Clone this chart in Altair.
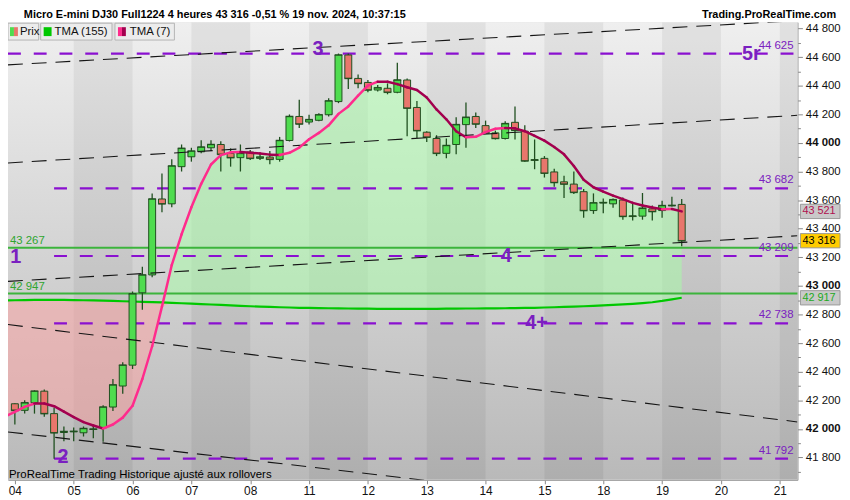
import altair as alt
import pandas as pd

# ---------------- data ----------------
DAYS = ['04', '05', '06', '07', '08', '11', '12', '13', '14', '15', '18', '19', '20', '21']
BARS_PER_DAY = 6

OPEN = [42176, 42130, 42183, 42264, 42107, 41975, 41980, 41973, 41996, 42008,
        42153, 42300, 42446, 42952, 43077, 43608, 43574, 43834, 43903, 43938,
        43966, 43989, 43927, 43897, 43936, 43892, 43901, 43885, 44017, 44185,
        44146, 44158, 44197, 44289, 44615, 44451, 44423, 44370, 44382, 44354,
        44440, 44248, 44075, 44031, 43927, 43989, 44128, 44185, 44121, 44070,
        44031, 44144, 44082, 43883, 43892, 43797, 43728, 43712, 43659, 43527,
        43580, 43574, 43601, 43489, 43488, 43539, 43527, 43560, 43570]
CLOSE = [42130, 42183, 42264, 42107, 41973, 41982, 41983, 42003, 41999, 42153,
         42308, 42446, 42945, 43077, 43608, 43574, 43839, 43962, 43943, 43971,
         43989, 43920, 43897, 43927, 43892, 43901, 43885, 44017, 44185, 44132,
         44163, 44197, 44294, 44615, 44451, 44416, 44370, 44386, 44354, 44440,
         44243, 44086, 44040, 43927, 43982, 44128, 44179, 44132, 44070, 44031,
         44135, 44088, 43874, 43879, 43788, 43723, 43712, 43654, 43527, 43581,
         43583, 43603, 43486, 43487, 43543, 43520, 43562, 43563, 43316]
HIGH = [42180, 42200, 42270, 42275, 42146, 42017, 42010, 42017, 42026, 42165,
        42349, 42467, 42961, 43134, 43647, 43786, 43885, 43989, 43966, 44019,
        44019, 44012, 43962, 43989, 43950, 43927, 43943, 44042, 44199, 44301,
        44197, 44208, 44312, 44625, 44625, 44479, 44440, 44405, 44416, 44560,
        44450, 44294, 44082, 44054, 44031, 44179, 44282, 44213, 44156, 44086,
        44151, 44255, 44123, 44024, 43908, 43820, 43770, 43800, 43678, 43647,
        43612, 43612, 43619, 43574, 43650, 43562, 43596, 43624, 43608]
LOW = [42031, 42107, 42107, 42085, 41792, 41913, 41913, 41947, 41934, 41911,
       42126, 42246, 42419, 42834, 43060, 43515, 43550, 43800, 43869, 43927,
       43943, 43800, 43834, 43800, 43881, 43881, 43851, 43869, 44010, 44104,
       44128, 44151, 44185, 44278, 44377, 44382, 44354, 44359, 44340, 44347,
       44047, 44035, 44007, 43908, 43892, 43920, 43966, 44104, 44063, 44024,
       44024, 44024, 43869, 43816, 43758, 43694, 43615, 43643, 43477, 43504,
       43509, 43546, 43463, 43458, 43463, 43458, 43477, 43555, 43278]
# indicator values start one bar before the first visible candle (bar -1)
TMA_FIRST_BAR = -1
TMA7 = [42086,
        42119, 42154, 42178, 42178, 42159, 42121, 42083, 42048, 42024, 42003,
        42031, 42079, 42162, 42349, 42578, 42855, 43146, 43361, 43550, 43714,
        43849, 43915, 43934, 43936, 43931, 43926, 43918, 43915, 43931, 43967,
        44026, 44070, 44123, 44203, 44255, 44331, 44400, 44428, 44428, 44411,
        44389, 44370, 44317, 44234, 44165, 44082, 44040, 44043, 44075, 44099,
        44104, 44102, 44082, 44050, 44016, 43971, 43920, 43839, 43742, 43690,
        43659, 43631, 43607, 43581, 43562, 43548, 43536, 43538, 43521]
TMA155 = [42899,
          42900, 42901, 42902, 42903, 42903, 42902, 42901, 42900, 42899, 42897,
          42895, 42893, 42891, 42889, 42887, 42885, 42882, 42879, 42876, 42873,
          42870, 42867, 42864, 42861, 42858, 42855, 42853, 42851, 42849, 42847,
          42846, 42845, 42844, 42843, 42842, 42841, 42841, 42840, 42840, 42840,
          42840, 42840, 42840, 42840, 42841, 42841, 42842, 42842, 42843, 42843,
          42844, 42845, 42846, 42847, 42849, 42851, 42853, 42855, 42858, 42861,
          42864, 42867, 42871, 42875, 42880, 42886, 42895, 42906, 42917]

GREEN_LEVELS = [43267, 42947]
PURPLE_LEVELS = [44625, 43682, 43209, 42738, 41792]
PURPLE_START = [-0.7, 4, 4, 4, 4]          # bar index where each level starts

# trend channel lines: (bar0, price0, bar1, price1)
CH_X0 = [-0.7, -0.7, -0.7, -0.7, -0.7]
CH_P0 = [44546, 43860, 43032, 42730, 41979]
CH_X1 = [79.8, 79.8, 79.8, 79.8, 79.8]
CH_P1 = [44855, 44193, 43351, 42049, 41338]

WAVE_TEXT = ['3', '5r', '1', '4', '4+', '2']
WAVE_BAR = [30.9, 75.1, 0.1, 50.1, 53.2, 4.9]
WAVE_PRICE = [44655, 44620, 43202, 43209, 42737, 41800]

LAST_PRICE = 43316
LAST_TMA7 = 43521
LAST_TMA155 = 42917

TITLE = "Micro E-mini DJ30 Full1224 4 heures 43 316 -0,51 % 19 nov. 2024, 10:37:15"
FONT = "Liberation Sans"

# ---------------- layout ----------------
W, H = 797, 462
XS = alt.Scale(domain=[-0.7, 79.8], nice=False, zero=False, padding=0)
YS = alt.Scale(domain=[41644, 44844], nice=False, zero=False, padding=0)
PURPLE = '#8a10d0'
PURPLE_TXT = '#7a20c0'
UP, DOWN, EDGE = '#4fdc4f', '#e8766c', '#1f4f1f'
PINK, CRIMSON = '#ff2b8c', '#a3004f'


def fmt(v):
    return f"{int(v):,}".replace(",", " ")


XAXIS = alt.Axis(
    values=[k * BARS_PER_DAY for k in range(len(DAYS))],
    labelExpr="[" + ",".join("'%s'" % d for d in DAYS) + "][round(datum.value/6)]",
    orient='bottom', title=None, grid=False, tickSize=4, tickColor='#888888',
    domainColor='#9a9a9a', labelFontSize=12, labelColor='#111111', labelFont=FONT,
    labelPadding=2, labelOverlap=False)
YAXIS = alt.Axis(
    values=list(range(41700, 44900, 100)), orient='right', title=None, grid=False,
    labelExpr="datum.value % 200 === 0 ? replace(format(datum.value, ','), ',', ' ') : ''",
    tickSize={"condition": {"test": "datum.value % 200 === 0", "value": 5}, "value": 3},
    labelFontWeight={"condition": {"test": "datum.value % 1000 === 0", "value": "bold"},
                     "value": "normal"},
    tickColor='#888888', domainColor='#9a9a9a', labelFontSize=11.5, labelColor='#111111',
    labelFont=FONT, labelPadding=3, labelOverlap=False)


def X(f):
    return alt.X(f, scale=XS, axis=XAXIS)


def Y(f):
    return alt.Y(f, scale=YS, axis=YAXIS)


n = len(OPEN)
candles = pd.DataFrame({
    'i': list(range(n)), 'open': OPEN, 'close': CLOSE, 'high': HIGH, 'low': LOW,
})
candles['col'] = [UP if c >= o else DOWN for o, c in zip(OPEN, CLOSE)]

m = len(TMA7)
tma_idx = [TMA_FIRST_BAR + k for k in range(m)]
tma = pd.DataFrame({'i': tma_idx, 'tma7': TMA7, 'tma155': TMA155})
seg = pd.DataFrame({
    'i': tma_idx[:-1], 'i2': tma_idx[1:],
    'v': TMA7[:-1], 'v2': TMA7[1:],
})
seg['col'] = [PINK if b > a else CRIMSON for a, b in zip(TMA7[:-1], TMA7[1:])]

bands = pd.DataFrame({
    's': [k * BARS_PER_DAY for k in range(len(DAYS)) if k % 2 == 1],
    'e': [min((k + 1) * BARS_PER_DAY, 79.8) for k in range(len(DAYS)) if k % 2 == 1],
})

one = pd.DataFrame({'a': [0]})

# background gradient
bg = alt.Chart(one).mark_rect(
    color=alt.Gradient(gradient='linear',
                       stops=[alt.GradientStop(color='#efefef', offset=0),
                              alt.GradientStop(color='#b9b9b9', offset=1)],
                       x1=0, x2=0, y1=0, y2=1)
).encode(x=alt.value(0), x2=alt.value(W), y=alt.value(0), y2=alt.value(H))

band_layer = alt.Chart(bands).mark_rect(color='#000000', opacity=0.055, clip=True).encode(
    x=X('s:Q'), x2='e:Q', y=alt.value(0), y2=alt.value(H))

fill_green = alt.Chart(tma).transform_calculate(
    hi='max(datum.tma7, datum.tma155)'
).mark_area(color='#a6ffa6', opacity=0.5, clip=True).encode(
    x=X('i:Q'), y=Y('hi:Q'), y2='tma155:Q')

fill_red = alt.Chart(tma).transform_calculate(
    lo='min(datum.tma7, datum.tma155)'
).mark_area(color='#ffa2a2', opacity=0.5, clip=True).encode(
    x=X('i:Q'), y=Y('lo:Q'), y2='tma155:Q')

tma155_line = alt.Chart(tma).mark_line(color='#00c800', strokeWidth=2.2, clip=True).encode(
    x=X('i:Q'), y=Y('tma155:Q'))

green_df = pd.DataFrame({'p': GREEN_LEVELS, 't': [fmt(v) for v in GREEN_LEVELS]})
green_lines = alt.Chart(green_df).mark_rule(color='#3cb43c', strokeWidth=2).encode(
    y=Y('p:Q'), x=alt.value(0), x2=alt.value(W))
green_text = alt.Chart(green_df).mark_text(
    align='left', baseline='bottom', dy=-2, fontSize=11.5, color='#2fa52f', font=FONT
).encode(y=Y('p:Q'), x=alt.value(2), text='t:N')

purple_df = pd.DataFrame({'p': PURPLE_LEVELS, 's': PURPLE_START,
                          't': [fmt(v) for v in PURPLE_LEVELS]})
purple_lines = alt.Chart(purple_df).mark_rule(
    color=PURPLE, strokeWidth=2.2, strokeDash=[13, 13]
).encode(x=X('s:Q'), x2=alt.value(W), y=Y('p:Q'))
purple_text = alt.Chart(purple_df).mark_text(
    align='right', baseline='bottom', dy=-3, fontSize=11.5, color=PURPLE_TXT, font=FONT
).encode(y=Y('p:Q'), x=alt.value(W - 4), text='t:N')

ch_df = pd.DataFrame({'x0': CH_X0, 'p0': CH_P0, 'x1': CH_X1, 'p1': CH_P1})
channels = alt.Chart(ch_df).mark_rule(
    color='#151515', strokeWidth=1.1, strokeDash=[15, 9], clip=True
).encode(x=X('x0:Q'), x2='x1:Q', y=Y('p0:Q'), y2='p1:Q')

wicks = alt.Chart(candles).mark_rule(color=EDGE, strokeWidth=1.3).encode(
    x=X('i:Q'), y=Y('low:Q'), y2='high:Q')
bodies = alt.Chart(candles).mark_bar(size=7, stroke=EDGE, strokeWidth=1).encode(
    x=X('i:Q'), y=Y('open:Q'), y2='close:Q', color=alt.Color('col:N', scale=None))
ticks_c = alt.Chart(candles).mark_tick(orient='horizontal', size=8, thickness=1.6,
                                       color=EDGE).encode(x=X('i:Q'), y=Y('close:Q'))

tma7_line = alt.Chart(seg).mark_rule(strokeWidth=2.5, strokeCap='round', clip=True).encode(
    x=X('i:Q'), x2='i2:Q', y=Y('v:Q'), y2='v2:Q', color=alt.Color('col:N', scale=None))

wave_df = pd.DataFrame({'t': WAVE_TEXT, 'i': WAVE_BAR, 'p': WAVE_PRICE})
waves = alt.Chart(wave_df).mark_text(
    fontSize=20, fontWeight='bold', color=PURPLE_TXT, font=FONT, baseline='middle'
).encode(x=X('i:Q'), y=Y('p:Q'), text='t:N')

# right-hand value boxes
box_df = pd.DataFrame({
    'p': [LAST_TMA7, LAST_PRICE, LAST_TMA155],
    't': [fmt(LAST_TMA7), fmt(LAST_PRICE), fmt(LAST_TMA155)],
    'bgc': ['#c9c9c9', '#ffcc00', '#c9c9c9'],
    'fgc': ['#b0104f', '#000000', '#22aa22'],
})
boxes = alt.Chart(box_df).transform_calculate(
    lo='datum.p - 50', hi='datum.p + 50'
).mark_rect(stroke='#9a9a9a', strokeWidth=1).encode(
    x=alt.value(W + 3), x2=alt.value(W + 43), y=Y('lo:Q'), y2='hi:Q',
    color=alt.Color('bgc:N', scale=None))
box_text = alt.Chart(box_df).mark_text(
    align='left', baseline='middle', fontSize=11, font=FONT
).encode(x=alt.value(W + 5), y=Y('p:Q'), text='t:N', color=alt.Color('fgc:N', scale=None))

# header
title = alt.Chart(one).mark_text(
    align='left', baseline='middle', fontSize=11, fontWeight='bold', font=FONT, color='#000000'
).encode(x=alt.value(16), y=alt.value(-7), text=alt.value(TITLE))
site = alt.Chart(one).mark_text(
    align='right', baseline='middle', fontSize=11, fontWeight='bold', font=FONT, color='#000000'
).encode(x=alt.value(836), y=alt.value(-7), text=alt.value('Trading.ProRealTime.com'))

leg_df = pd.DataFrame({'x0': [0, 33, 108], 'x1': [31, 105, 168]})
leg_boxes = alt.Chart(leg_df).mark_rect(color='#ececec', stroke='#b4b4b4', strokeWidth=1).encode(
    x=alt.X('x0:Q', scale=None), x2='x1:Q', y=alt.value(1), y2=alt.value(18))
sw_df = pd.DataFrame({'x0': [2, 6, 36, 111, 115], 'x1': [6, 10, 44, 115, 119],
                      'c': [UP, DOWN, '#00c800', PINK, CRIMSON]})
swatches = alt.Chart(sw_df).mark_rect().encode(
    x=alt.X('x0:Q', scale=None), x2='x1:Q', y=alt.value(5), y2=alt.value(14),
    color=alt.Color('c:N', scale=None))
lt_df = pd.DataFrame({'x': [12, 47, 123], 't': ['Prix', 'TMA (155)', 'TMA (7)']})
leg_text = alt.Chart(lt_df).mark_text(
    align='left', baseline='middle', fontSize=11.5, font=FONT, color='#111111'
).encode(x=alt.X('x:Q', scale=None), y=alt.value(10), text='t:N')

footer = alt.Chart(one).mark_text(
    align='left', baseline='middle', fontSize=11.5, font=FONT, color='#000000'
).encode(x=alt.value(1), y=alt.value(457),
         text=alt.value('ProRealTime Trading  Historique ajusté aux rollovers'))

chart = alt.layer(
    bg, band_layer, fill_red, fill_green, tma155_line, green_lines, purple_lines,
    wicks, bodies, ticks_c, channels, tma7_line, green_text, purple_text, waves,
    boxes, box_text, leg_boxes, swatches, leg_text, title, site, footer
).properties(
    width=W, height=H,
    autosize=alt.AutoSizeParams(type='none'),
    padding={'left': 0, 'top': 12, 'right': 45, 'bottom': 18},
).configure_view(stroke=None).configure(font=FONT)

chart.save("out.html", embed_options={"renderer": "svg", "actions": False})
